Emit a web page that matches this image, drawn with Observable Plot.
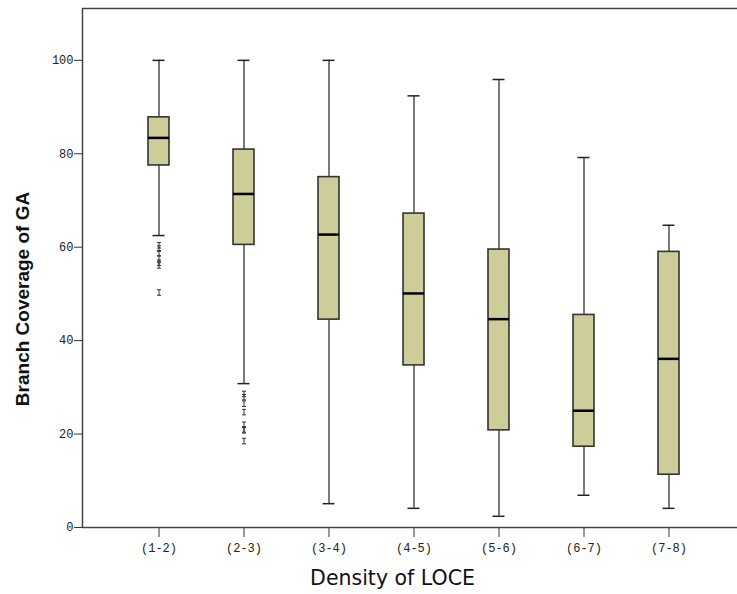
<!DOCTYPE html>
<html>
<head>
<meta charset="utf-8">
<script src="https://cdn.jsdelivr.net/npm/d3@7"></script>
<script src="https://cdn.jsdelivr.net/npm/@observablehq/plot@0.6"></script>
<style>
  html, body { margin: 0; padding: 0; background: #fff; }
  #chart svg { overflow: hidden; }
</style>
</head>
<body>
<div id="chart"></div>
<script>
// Categories (x axis)
const categories = ["(1-2)", "(2-3)", "(3-4)", "(4-5)", "(5-6)", "(6-7)", "(7-8)"];
// Box-plot statistics per category
const whiskerHigh = [100, 100, 100, 92.4, 95.9, 79.2, 64.7];
const q3 = [87.8, 80.9, 75.0, 67.2, 59.5, 45.5, 59.0];
const median = [83.4, 71.4, 62.7, 50.1, 44.6, 25.0, 36.1];
const q1 = [77.5, 60.5, 44.5, 34.7, 20.8, 17.3, 11.3];
const whiskerLow = [62.5, 30.8, 5.1, 4.1, 2.4, 6.9, 4.1];
// Outliers
const outlierCat = ["(1-2)", "(1-2)", "(1-2)", "(1-2)", "(1-2)", "(1-2)", "(1-2)",
                    "(2-3)", "(2-3)", "(2-3)", "(2-3)", "(2-3)", "(2-3)", "(2-3)", "(2-3)"];
const outlierVal = [60.4, 59.7, 58.7, 57.6, 56.7, 56.1, 50.3,
                    28.6, 27.9, 26.5, 24.7, 22.0, 21.0, 20.8, 18.5];
// Tick values and titles
const yTicks = [0, 20, 40, 60, 80, 100];
const xTitle = "Density of LOCE";
const yTitle = "Branch Coverage of GA";

const boxes = categories.map((c, i) => ({
  cat: c, hi: whiskerHigh[i], q3: q3[i], med: median[i], q1: q1[i], lo: whiskerLow[i]
}));
const outliers = outlierCat.map((c, i) => ({cat: c, v: outlierVal[i]}));

const iSymbol = {
  draw(ctx, size) {
    const r = Math.sqrt(size / Math.PI);
    const w = r * 0.8, h = r * 1.1;
    ctx.moveTo(-w, -h); ctx.lineTo(w, -h);
    ctx.moveTo(0, -h); ctx.lineTo(0, h);
    ctx.moveTo(-w, h); ctx.lineTo(w, h);
  }
};

const tickFont = "'Liberation Mono', 'DejaVu Sans Mono', monospace";

const chart = Plot.plot({
  width: 737,
  height: 594,
  marginLeft: 82,
  marginRight: -10,
  marginTop: 8,
  marginBottom: 67,
  style: {background: "#fff"},
  x: {type: "band", domain: categories, range: [115.5, 710.5], padding: 0},
  y: {domain: [0, 111.1], range: [527, 8]},
  marks: [
    Plot.frame({stroke: "#444", strokeWidth: 1.5}),
    Plot.axisY(yTicks, {
      tickSize: 8, tickPadding: 1, label: null,
      fontSize: 12, fontFamily: tickFont, fill: "#222", stroke: "#333",
      style: {letterSpacing: "1.2px"}
    }),
    Plot.axisX({
      tickSize: 10, tickPadding: 6, label: null,
      fontSize: 12, fontFamily: tickFont, fill: "#222", stroke: "#333",
      style: {letterSpacing: "1.2px"}
    }),
    // whiskers
    Plot.ruleX(boxes, {x: "cat", y1: "q3", y2: "hi", stroke: "#333", strokeWidth: 1.3}),
    Plot.ruleX(boxes, {x: "cat", y1: "lo", y2: "q1", stroke: "#333", strokeWidth: 1.3}),
    Plot.tickY(boxes, {x: "cat", y: "hi", insetLeft: 36.5, insetRight: 36.5, stroke: "#222", strokeWidth: 1.5}),
    Plot.tickY(boxes, {x: "cat", y: "lo", insetLeft: 36.5, insetRight: 36.5, stroke: "#222", strokeWidth: 1.5}),
    // boxes
    Plot.barY(boxes, {x: "cat", y1: "q1", y2: "q3", insetLeft: 32, insetRight: 32,
      fill: "#cdcd99", stroke: "#333", strokeWidth: 1.6}),
    // medians
    Plot.tickY(boxes, {x: "cat", y: "med", insetLeft: 32, insetRight: 32, stroke: "#000", strokeWidth: 2.5}),
    // outliers
    Plot.dot(outliers, {x: "cat", y: "v", symbol: iSymbol, r: 2.5, stroke: "#333", strokeWidth: 1, fill: "none"}),
    // titles
    Plot.text([yTitle], {frameAnchor: "left", textAnchor: "middle", dx: -60, dy: 31, rotate: -90,
      fontSize: 19, fontWeight: "bold", fontFamily: "'Liberation Sans', Arial, sans-serif", fill: "#111"}),
    Plot.text([xTitle], {frameAnchor: "bottom", textAnchor: "middle", dx: -22.5, dy: 57,
      fontSize: 20.5, fontFamily: "'DejaVu Sans', Verdana, sans-serif", fill: "#111"})
  ]
});

document.getElementById("chart").appendChild(chart);
</script>
</body>
</html>
